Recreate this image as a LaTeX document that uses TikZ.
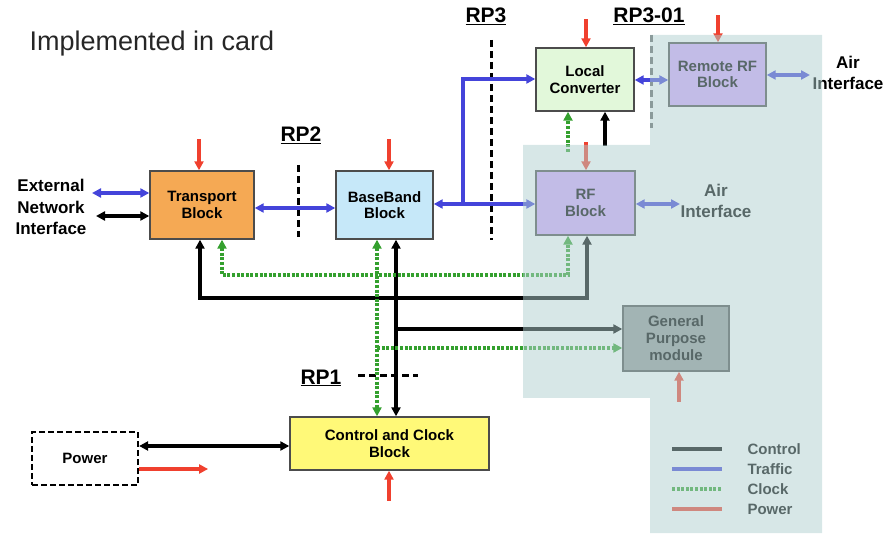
\documentclass[tikz,border=0pt]{standalone}
\usepackage{fontspec}
\setmainfont{Liberation Sans}
\usetikzlibrary{arrows.meta}
\definecolor{trafficblue}{HTML}{4444DA}
\definecolor{clockgreen}{HTML}{34A02E}
\definecolor{powerred}{HTML}{F0402E}
\definecolor{transportorange}{HTML}{F5A954}
\definecolor{basebandblue}{HTML}{C6E8F9}
\definecolor{convgreen}{HTML}{E2F8DA}
\definecolor{rfpurple}{HTML}{D6A8FF}
\definecolor{gpgrey}{HTML}{959898}
\definecolor{ctrlyellow}{HTML}{FFF978}
\definecolor{cardshade}{HTML}{B0D0D0}
\tikzset{
  >={Triangle[length=9pt,width=9pt]},
  block/.style={draw=black!70, line width=1.4pt, align=center, inner sep=0pt,
    font=\bfseries\fontsize{15}{16.5}\selectfont},
  traffic/.style={draw=trafficblue, line width=3.2pt},
  ctrl/.style={draw=black, line width=3.2pt},
  clock/.style={draw=clockgreen, line width=3.2pt, dash pattern=on 3pt off 1.6pt},
  power/.style={draw=powerred, line width=3.2pt},
  rpcut/.style={draw=black, line width=3pt, dash pattern=on 7pt off 4pt},
  rplabel/.style={font=\bfseries\fontsize{21}{24}\selectfont},
  side/.style={font=\bfseries\fontsize{17}{21.5}\selectfont, align=center},
  legend/.style={anchor=west, font=\bfseries\fontsize{15}{16}\selectfont},
}
\begin{document}
\begin{tikzpicture}[x=1pt,y=-1pt]
  \useasboundingbox (0,0) rectangle (895,537);

  \node[anchor=west, text=black!85, font=\fontsize{27}{30}\selectfont] (title) at (26,44) {Implemented in card};

  % blocks
  \node[block, fill=transportorange, minimum width=104, minimum height=68] (tb) at (202,205) {Transport\\Block};
  \node[block, fill=basebandblue, minimum width=97, minimum height=68] (bb) at (384.5,205) {BaseBand\\Block};
  \node[block, fill=convgreen, minimum width=98, minimum height=63] (lc) at (585,79.5) {Local\\Converter};
  \node[block, fill=rfpurple, minimum width=97, minimum height=63] (rrf) at (717.5,74.5) {Remote RF\\Block};
  \node[block, fill=rfpurple, minimum width=99, minimum height=64] (rf) at (585.5,203) {RF\\Block};
  \node[block, fill=gpgrey, minimum width=106, minimum height=65, font=\bfseries\fontsize{15}{17}\selectfont] (gp) at (676,338.5) {General\\Purpose\\module};
  \node[block, fill=ctrlyellow, minimum width=199, minimum height=53] (ccb) at (389.5,443.5) {Control and Clock\\Block};
  \node[block, draw=black, line width=2.2pt, dash pattern=on 6pt off 3pt, minimum width=106, minimum height=53] (pwr) at (85,458.5) {Power};

  \node[side] (ext) at (51,207) {External\\Network\\Interface};
  \node[side] (air1) at (848,73) {Air\\Interface};
  \node[side] (air2) at (716,201) {Air\\Interface};

  % reference points
  \node[rplabel] (rp2) at (301,135) {\underline{RP2}};
  \node[rplabel] (rp3) at (486,16) {\underline{RP3}};
  \node[rplabel] (rp301) at (649,16) {\underline{RP3-01}};
  \node[rplabel] (rp1) at (321,378) {\underline{RP1}};
  \draw[rpcut] (298,165) -- (298,237);
  \draw[rpcut] (491,40) -- (491,240);
  \draw[rpcut, draw=black!60] (651,35) -- (651,128);
  \draw[rpcut] (358,376) -- (418,376);

  % traffic
  \draw[traffic,<->] (92,193) -- (tb.west |- 0,193);
  \draw[traffic,<->] (tb.east |- 0,208) -- (bb.west |- 0,208);
  \draw[traffic,<->] (bb.east |- 0,204) -- (rf.west |- 0,204);
  \draw[traffic,->] (463,204) |- (lc.west |- 0,79);
  \draw[traffic,<->] (lc.east |- 0,80) -- (rrf.west |- 0,80);
  \draw[traffic,<->] (rrf.east |- 0,75) -- (810,75);
  \draw[traffic,<->] (rf.east |- 0,204) -- (680,204);

  % control
  \draw[ctrl,<->] (96,216) -- (tb.west |- 0,216);
  \draw[ctrl,<->] (bb.south -| 396,0) -- (ccb.north -| 396,0);
  \draw[ctrl,<->] (tb.south -| 200,0) |- (587,298) -- (rf.south -| 587,0);
  \draw[ctrl,->] (396,329) -- (gp.west |- 0,329);
  \draw[ctrl,->] (605,146) -- (lc.south -| 605,0);
  \draw[ctrl,<->] (pwr.east |- 0,446) -- (ccb.west |- 0,446);

  % clock
  \draw[clock,<->] (bb.south -| 377,0) -- (ccb.north -| 377,0);
  \draw[clock,<->] (tb.south -| 222,0) |- (568,275) -- (rf.south -| 568,0);
  \draw[clock,->] (377,348) -- (gp.west |- 0,348);
  \draw[clock,->] (568,152) -- (lc.south -| 568,0);

  % power
  \foreach \x/\n/\l in {199/tb/31, 389/bb/31, 586/lc/28, 718/rrf/27, 586/rf/28}
    \draw[power,<-] (\n.north -| \x,0) -- ++(0,-\l);
  \draw[power,<-] (ccb.south -| 389,0) -- ++(0,30);
  \draw[power,<-] (gp.south -| 679,0) -- ++(0,30);
  \draw[power,->] (pwr.east |- 0,469) -- ++(69,0);

  % legend
  \foreach \st/\txt/\y in {ctrl/Control/449, traffic/Traffic/469, clock/Clock/489, power/Power/509} {
    \draw[\st] (672,\y) -- (722,\y);
    \node[legend] (lg\txt) at (744,\y) {\txt};
  }

  % card area
  \fill[cardshade, fill opacity=0.5] (523,145) rectangle (650,398) (650,35) rectangle (822,533);
\end{tikzpicture}
\end{document}
